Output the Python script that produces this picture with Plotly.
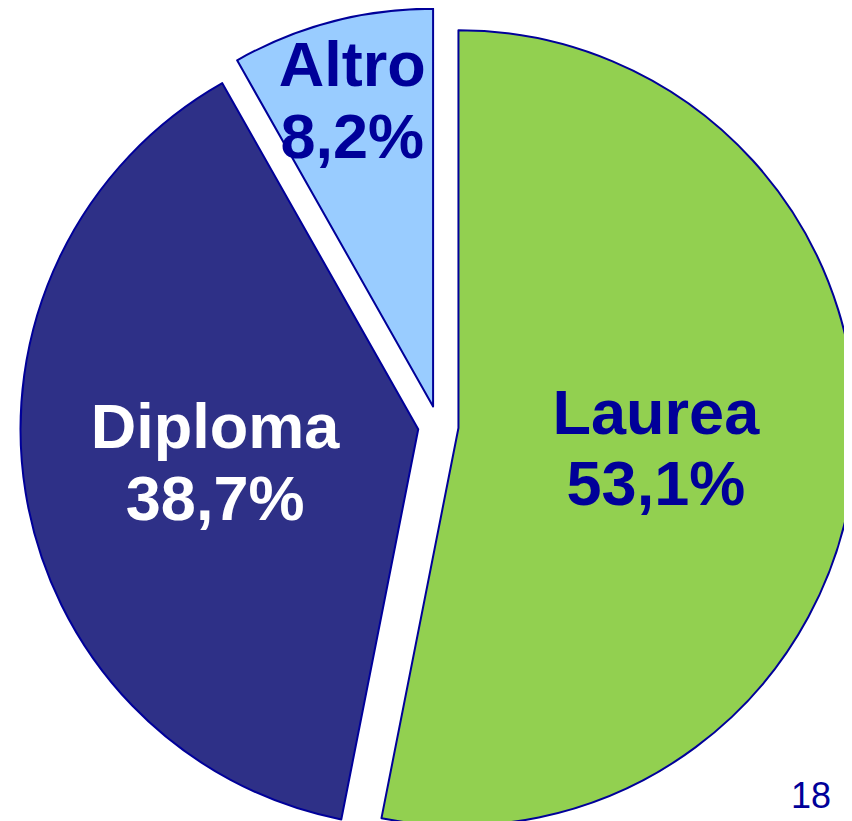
import plotly.graph_objects as go

labels = ["Laurea", "Diploma", "Altro"]
values = [53.1, 38.7, 8.2]
value_text = ["53,1%", "38,7%", "8,2%"]
colors = ["#92D050", "#2E3087", "#99CCFF"]
text_colors = ["#000099", "#FFFFFF", "#000099"]
page_number = "18"

BIG = "<span style='font-size:63px'>{}</span>"
fig = go.Figure(go.Pie(
    labels=labels,
    values=values,
    text=[BIG.format(l) + "<br>" + BIG.format(v) for l, v in zip(labels, value_text)],
    textinfo="text",
    textposition="inside",
    insidetextorientation="horizontal",
    sort=False,
    direction="clockwise",
    rotation=0,
    pull=[0.051, 0.051, 0.051],
    marker=dict(colors=colors, line=dict(color="#000099", width=2)),
    textfont=dict(family="Liberation Sans, Arial, sans-serif", size=55, color=text_colors),
    insidetextfont=dict(family="Liberation Sans, Arial, sans-serif", size=55, color=text_colors, weight="bold"),
    domain=dict(x=[0.01, 1.0], y=[0.0, 1.0]),
    hoverinfo="none",
))

fig.add_annotation(
    text=page_number, x=0.968, y=0.031, xref="paper", yref="paper",
    xanchor="right", yanchor="bottom", showarrow=False,
    font=dict(family="Liberation Sans, Arial, sans-serif", size=36, color="#000099"),
)

fig.update_layout(
    width=852, height=836,
    margin=dict(l=0, r=0, t=0, b=0),
    paper_bgcolor="white", plot_bgcolor="white",
    showlegend=False,
    uniformtext=dict(minsize=55, mode="show"),
)

fig.write_html("out.html")
